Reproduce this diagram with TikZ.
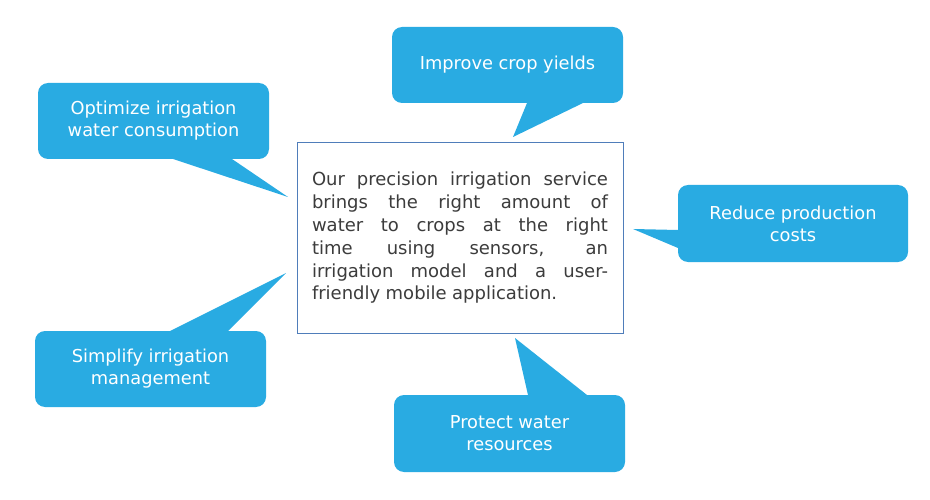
\documentclass[tikz,border=0pt]{standalone}
\usepackage{fontspec}
\setmainfont{DejaVu Sans}
\definecolor{callblue}{HTML}{29ABE2}
\definecolor{boxline}{HTML}{4F7DBA}
\definecolor{bodytext}{HTML}{3C3C3C}
\newcommand\loosespaces{\spaceskip=0.3em plus 10em minus 0.22em\relax}
\tikzset{
  callout/.style={fill=callblue, rounded corners=10pt, minimum width=231pt, minimum height=76pt,
    text=white, align=center, font=\fontsize{17.8}{22}\selectfont, inner sep=0pt},
  calltail/.style={fill=callblue, draw=none},
  mainbox/.style={draw=boxline, line width=1pt, fill=white, minimum width=326pt, minimum height=190pt,
    text width=296pt, align=justify, text=bodytext,
    font=\fontsize{18}{22.8}\selectfont, inner sep=0pt}
}
\begin{document}
\begin{tikzpicture}[x=1pt,y=-1pt]
\useasboundingbox (0,0) rectangle (930,500);
% center box
\node[mainbox] (main) at (460,238) {\loosespaces Our precision irrigation service\linebreak brings the right amount of\linebreak water to crops at the right\linebreak time using sensors, an\linebreak irrigation model and a user-\linebreak friendly mobile application.};
% tips
\coordinate (t1) at (288,197);
\coordinate (t2) at (513,137);
\coordinate (t3) at (633,229);
\coordinate (t4) at (286,273);
\coordinate (t5) at (515,338);
% tails
\fill[calltail] (t1) -- (232,159) -- (232,150) -- (173,150) -- (173,159) -- cycle;
\fill[calltail] (t2) -- (527,103) -- (527,94) -- (583,94) -- (583,103) -- cycle;
\fill[calltail] (t3) -- (678,230) -- (688,230) -- (688,248) -- (678,248) -- cycle;
\fill[calltail] (t4) -- (228,331) -- (228,340) -- (170,340) -- (170,331) -- cycle;
\fill[calltail] (t5) -- (528,395) -- (528,404) -- (587,404) -- (587,395) -- cycle;
% callouts
\node[callout] (c1) at (153.5,121) {Optimize irrigation\\water consumption};
\node[callout] (c2) at (507.5,65) {Improve crop yields};
\node[callout, minimum width=230pt, minimum height=77pt] (c3) at (793,223.5) {Reduce production\\costs};
\node[callout] (c4) at (150.5,369) {Simplify irrigation\\management};
\node[callout, minimum height=77pt] (c5) at (509.5,433.5) {Protect water\\resources};
\end{tikzpicture}
\end{document}
